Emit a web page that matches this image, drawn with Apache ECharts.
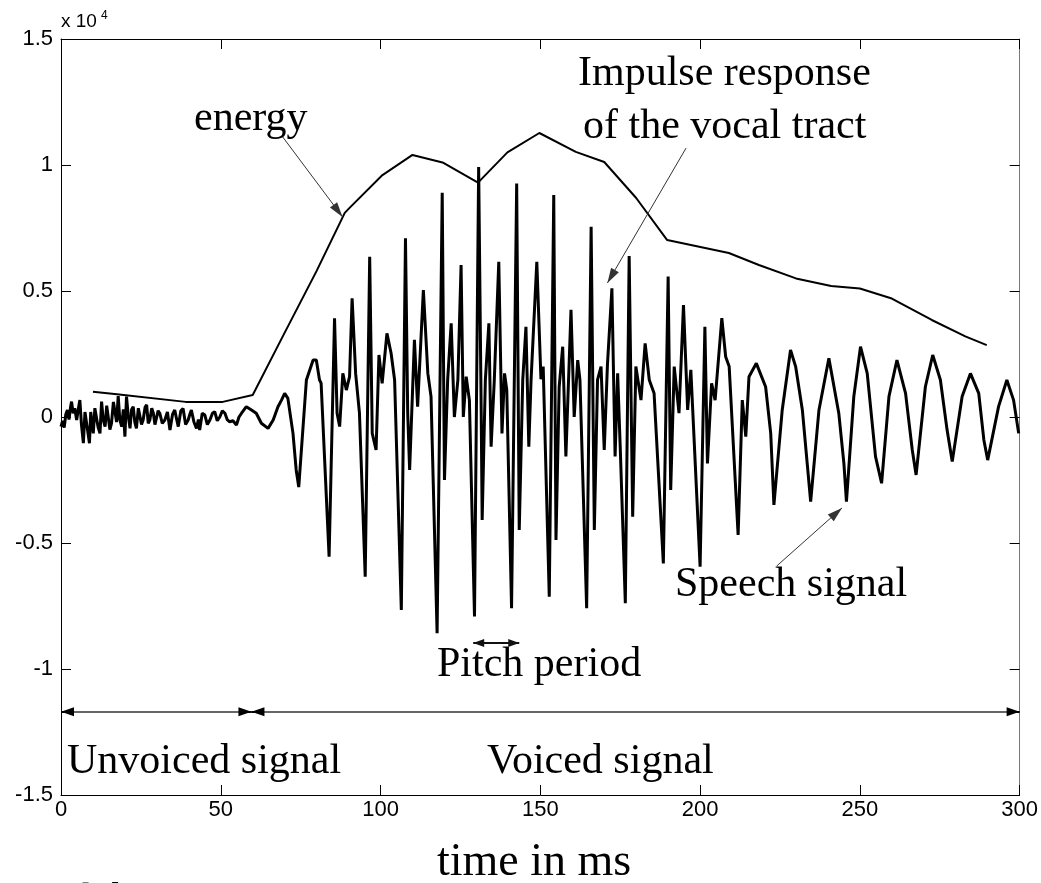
<!DOCTYPE html>
<html><head><meta charset="utf-8">
<script src="https://cdn.jsdelivr.net/npm/echarts@6/dist/echarts.min.js"></script>
<style>html,body{margin:0;padding:0;background:#fff;} #c{width:1041px;height:883px;}</style>
</head><body><div id="c"></div>
<script>
// time (ms) / amplitude pairs
const speechSignal = [
[0,-380],[0.5,-150],[1.0,-420],[1.5,100],[2.0,280],[2.5,-100],[3.0,400],[3.3,610],[3.8,150],[4.3,350],
[4.9,-120],[5.4,300],[5.9,670],[6.4,-300],[7.0,-1040],[7.5,200],[8.0,150],[8.4,-600],[8.9,-1040],[9.3,200],
[9.6,-120],[10.1,-650],[10.6,350],[11.1,280],[11.6,-400],[12.2,-650],[12.7,610],[13.2,-100],[13.8,-380],[14.3,450],
[14.8,410],[15.3,-500],[15.8,-250],[16.4,600],[16.9,540],[17.4,-200],[17.9,830],[18.4,-100],[19.0,-380],[19.5,300],
[20.0,-780],[20.5,810],[21.0,100],[21.6,-450],[22.1,300],[22.6,410],[23.1,-200],[23.6,-450],[24.2,350],[24.7,410],
[25.2,-300],[25.7,-120],[26.3,380],[26.8,480],[27.3,-250],[27.8,-120],[28.4,350],[28.9,150],[29.4,-300],[29.9,-250],
[30.4,250],[30.9,150],[31.7,-250],[32.5,-120],[33.3,200],[34.1,-520],[34.9,100],[35.6,280],[36.2,-100],[36.7,-380],
[37.5,250],[38.2,340],[39.0,-300],[39.8,-120],[40.3,100],[40.8,280],[41.6,-200],[42.4,-450],[43.0,-100],[43.4,-520],
[44.2,150],[45.0,80],[45.8,-300],[46.6,-120],[47.4,150],[48.1,210],[48.9,-150],[49.7,0],[50.5,250],[51.3,150],
[52.0,-100],[52.8,-190],[53.8,-150],[54.9,-320],[55.7,0],[56.5,150],[58.0,410],[59.6,280],
[61.1,150],[62.7,-250],[64.8,-450],[66.4,-120],[67.9,410],[69.0,670],[70.0,940],[71.0,740],[72.6,-650],[73.6,-2100],
[74.4,-2780],[76.8,1470],[78.9,2260],[79.9,2260],[80.9,1470],[81.4,1340],[83.9,-5540],[85.6,3920],[86.4,150],[87.2,-380],
[88.2,1730],[89.3,1070],[90.3,1600],[91.1,4710],[92.2,1730],[93.4,150],[95.2,-6340],[96.6,6360],[97.4,-650],[98.6,-1310],
[99.5,2460],[100.5,1340],[102.0,3320],[103.3,2530],[104.4,1470],[106.5,-7660],[107.8,7090],[108.5,150],[109.1,-2100],[110.6,3060],
[111.6,410],[113.4,5040],[114.8,1730],[115.8,810],[117.7,-8580],[119.3,8900],[120.0,-2500],[121.0,1470],[122.1,3720],[123.1,0],
[124.2,1470],[125.2,6030],[125.9,0],[126.8,1600],[127.8,670],[129.4,-7920],[130.7,9920],[131.5,150],[131.8,-4090],[132.8,1470],
[133.9,3720],[134.6,-1180],[135.6,1470],[137.0,6160],[138.0,-650],[138.8,1730],[139.5,1070],[141.0,-7590],[142.6,9270],[143.4,-4480],
[144.5,1470],[145.5,3580],[146.4,-1180],[147.1,1470],[148.9,6160],[150.2,1500],[150.9,2000],[152.8,-7130],[154.2,8810],[154.9,-4880],
[155.9,1200],[157.0,2790],[158.0,-1570],[159.6,4250],[160.6,0],[161.7,2260],[162.4,1470],[164.5,-7590],[165.9,7550],[166.9,-4480],
[167.9,1470],[169.0,2000],[170.0,-1310],[171.0,2060],[172.4,5110],[173.4,-1570],[174.2,1730],[175.0,-1180],[176.6,-7390],[177.8,6390],
[178.9,-3960],[179.9,2000],[181.5,670],[182.8,2920],[184.1,1470],[185.6,940],[188.5,-5810],[190.0,5570],[190.8,-2900],[191.9,2000],
[193.4,150],[194.8,4440],[196.1,280],[197.1,1870],[200.0,-5940],[201.5,3580],[202.3,-1840],[203.6,1340],[204.7,670],[206.8,3920],
[208.0,2390],[209.1,2000],[211.9,-4680],[213.2,670],[214.3,-780],[215.3,1600],[217.6,2130],[220.5,1200],[222.1,-650],[223.1,-3490],
[225.7,280],[228.3,2660],[229.9,2000],[232.0,280],[234.6,-3360],[237.2,280],[240.3,2330],[243.4,150],[245.0,-1840],[245.8,-3360],
[248.1,810],[250.2,2790],[252.3,1730],[254.9,-1570],[256.8,-2630],[259.1,810],[261.6,2260],[264.3,940],[266.4,-1310],[267.6,-2300],
[270.5,1200],[272.8,2460],[275.2,1470],[277.3,-520],[278.9,-1770],[282.0,810],[284.6,1730],[287.2,940],[288.8,-910],[290.0,-1710],
[293.4,410],[296.0,1470],[298.1,670],[299.7,-650]
];
const energyEnvelope = [
[10,1000],[17.5,900],[39,600],[50.6,600],[60,870],[69.4,3200],[80,5800],[88.8,8100],[90.3,8300],[100.6,9600],
[110,10400],[119.4,10100],[130.5,9300],[139.7,10500],[149.7,11270],[161.1,10520],[170,10120],[180,8690],[189.7,7020],[209,6510],
[218.4,6030],[230,5500],[241,5200],[250,5100],[260,4700],[272.5,3850],[283,3200],[289.7,2850]
];
const xTicks = {min: 0, max: 300, step: 50};
const yTicks = {min: -15000, max: 15000, step: 5000, scale: 10000};
// annotation arrows [tail, head] in data coordinates
const calloutArrows = [
  [[69.4, 11110], [88.1, 7940]],
  [[195.6, 10670], [171.0, 5320]],
  [[224.0, -5910], [244.4, -3610]]
];
const spanArrows = [
  [[0, -11700], [59.6, -11700]],
  [[59.6, -11700], [300, -11700]]
];
const pitchArrow = [[129, -8970], [143.4, -8970]];
const labels = {
  energy: 'energy', impulse1: 'Impulse response', impulse2: 'of the vocal tract',
  speech: 'Speech signal', pitch: 'Pitch period', unvoiced: 'Unvoiced signal',
  voiced: 'Voiced signal', xName: 'time in ms', caption: 'spatial dimension'
};

const SERIF = '"Liberation Serif", "Times New Roman", serif';
const SANS = '"Liberation Sans", Arial, sans-serif';

function head(coord, size) {
  return {coord: coord, symbol: 'triangle', symbolSize: size, symbolOffset: [0, '50%']};
}
const mlData = [];
calloutArrows.forEach(a => mlData.push([
  {coord: a[0], symbol: 'none', lineStyle: {color: '#333', width: 1, type: 'solid'}},
  head(a[1], [9, 15])
]));
spanArrows.forEach(a => {
  mlData.push([
    {coord: a[0], symbol: 'none', lineStyle: {color: '#666', width: 2, type: 'solid'}},
    {coord: a[1], symbol: 'none'}
  ]);
  // black arrow heads at both tips
  const dir = a[1][0] > a[0][0] ? 1 : -1;
  mlData.push([
    {coord: [a[0][0] + dir, a[0][1]], symbol: 'none', lineStyle: {color: '#000', width: 2, type: 'solid'}},
    head(a[0], [9, 13])
  ]);
  mlData.push([
    {coord: [a[1][0] - dir, a[1][1]], symbol: 'none', lineStyle: {color: '#000', width: 2, type: 'solid'}},
    head(a[1], [9, 13])
  ]);
});
mlData.push([
  Object.assign(head(pitchArrow[0], [8, 11]), {lineStyle: {color: '#111', width: 2, type: 'solid'}}),
  head(pitchArrow[1], [8, 11])
]);

const chart = echarts.init(document.getElementById('c'), null, {renderer: 'canvas'});
const baseAxisX = {
  type: 'value', min: xTicks.min, max: xTicks.max, interval: xTicks.step,
  splitLine: {show: false},
  axisLine: {show: true, onZero: false, lineStyle: {color: '#000', width: 1}},
  axisTick: {show: true, inside: true, length: 10, lineStyle: {color: '#000'}}
};
const baseAxisY = {
  type: 'value', min: yTicks.min, max: yTicks.max, interval: yTicks.step,
  splitLine: {show: false},
  axisLine: {show: true, onZero: false, lineStyle: {color: '#000', width: 1}},
  axisTick: {show: true, inside: true, length: 10, lineStyle: {color: '#000'}}
};
chart.setOption({
  animation: false,
  backgroundColor: '#fff',
  grid: {left: 61, right: 20, top: 39, bottom: 88, containLabel: false},
  xAxis: [
    Object.assign({}, baseAxisX, {position: 'bottom',
      axisLabel: {show: true, margin: 4, fontFamily: SANS, fontSize: 22, color: '#000'}}),
    Object.assign({}, baseAxisX, {position: 'top', axisLabel: {show: false}})
  ],
  yAxis: [
    Object.assign({}, baseAxisY, {position: 'left',
      axisLabel: {show: true, margin: 8, fontFamily: SANS, fontSize: 22, color: '#000',
        formatter: v => String(v / yTicks.scale)}}),
    Object.assign({}, baseAxisY, {position: 'right', axisLabel: {show: false},
      axisLine: {show: true, onZero: false, lineStyle: {color: '#777', width: 1}}})
  ],
  series: [
    {
      name: 'speech', type: 'line', data: speechSignal, showSymbol: false, symbol: 'none',
      lineStyle: {color: '#000', width: 3}, silent: true
    },
    {
      name: 'energy', type: 'line', data: energyEnvelope, showSymbol: false, symbol: 'none',
      lineStyle: {color: '#000', width: 2}, silent: true,
      markLine: {
        silent: true, animation: false, label: {show: false},
        lineStyle: {type: 'solid'},
        emphasis: {disabled: true},
        data: mlData
      }
    }
  ],
  graphic: [
    {type: 'text', x: 61, y: 31, style: {text: 'x 10', font: '19px ' + SANS, fill: '#000', verticalAlign: 'bottom'}},
    {type: 'text', x: 101, y: 22, style: {text: '4', font: '12px ' + SANS, fill: '#000', verticalAlign: 'bottom'}},
    {type: 'text', x: 194, y: 119, style: {text: labels.energy, font: '42px ' + SERIF, fill: '#000', verticalAlign: 'middle'}},
    {type: 'text', x: 578, y: 74, style: {text: labels.impulse1, font: '42px ' + SERIF, fill: '#000', verticalAlign: 'middle'}},
    {type: 'text', x: 583, y: 127, style: {text: labels.impulse2, font: '42px ' + SERIF, fill: '#000', verticalAlign: 'middle'}},
    {type: 'text', x: 675, y: 585, style: {text: labels.speech, font: '42px ' + SERIF, fill: '#000', verticalAlign: 'middle'}},
    {type: 'text', x: 437, y: 665, style: {text: labels.pitch, font: '42px ' + SERIF, fill: '#000', verticalAlign: 'middle'}},
    {type: 'text', x: 67, y: 762, style: {text: labels.unvoiced, font: '42px ' + SERIF, fill: '#000', verticalAlign: 'middle'}},
    {type: 'text', x: 487, y: 762, style: {text: labels.voiced, font: '42px ' + SERIF, fill: '#000', verticalAlign: 'middle'}},
    {type: 'text', x: 437, y: 863, style: {text: labels.xName, font: '46px ' + SERIF, fill: '#000', verticalAlign: 'middle'}},
    {type: 'text', x: -7, y: 899, style: {text: labels.caption, font: '38px ' + SERIF, fill: '#000', verticalAlign: 'middle'}}
  ]
});
</script></body></html>
